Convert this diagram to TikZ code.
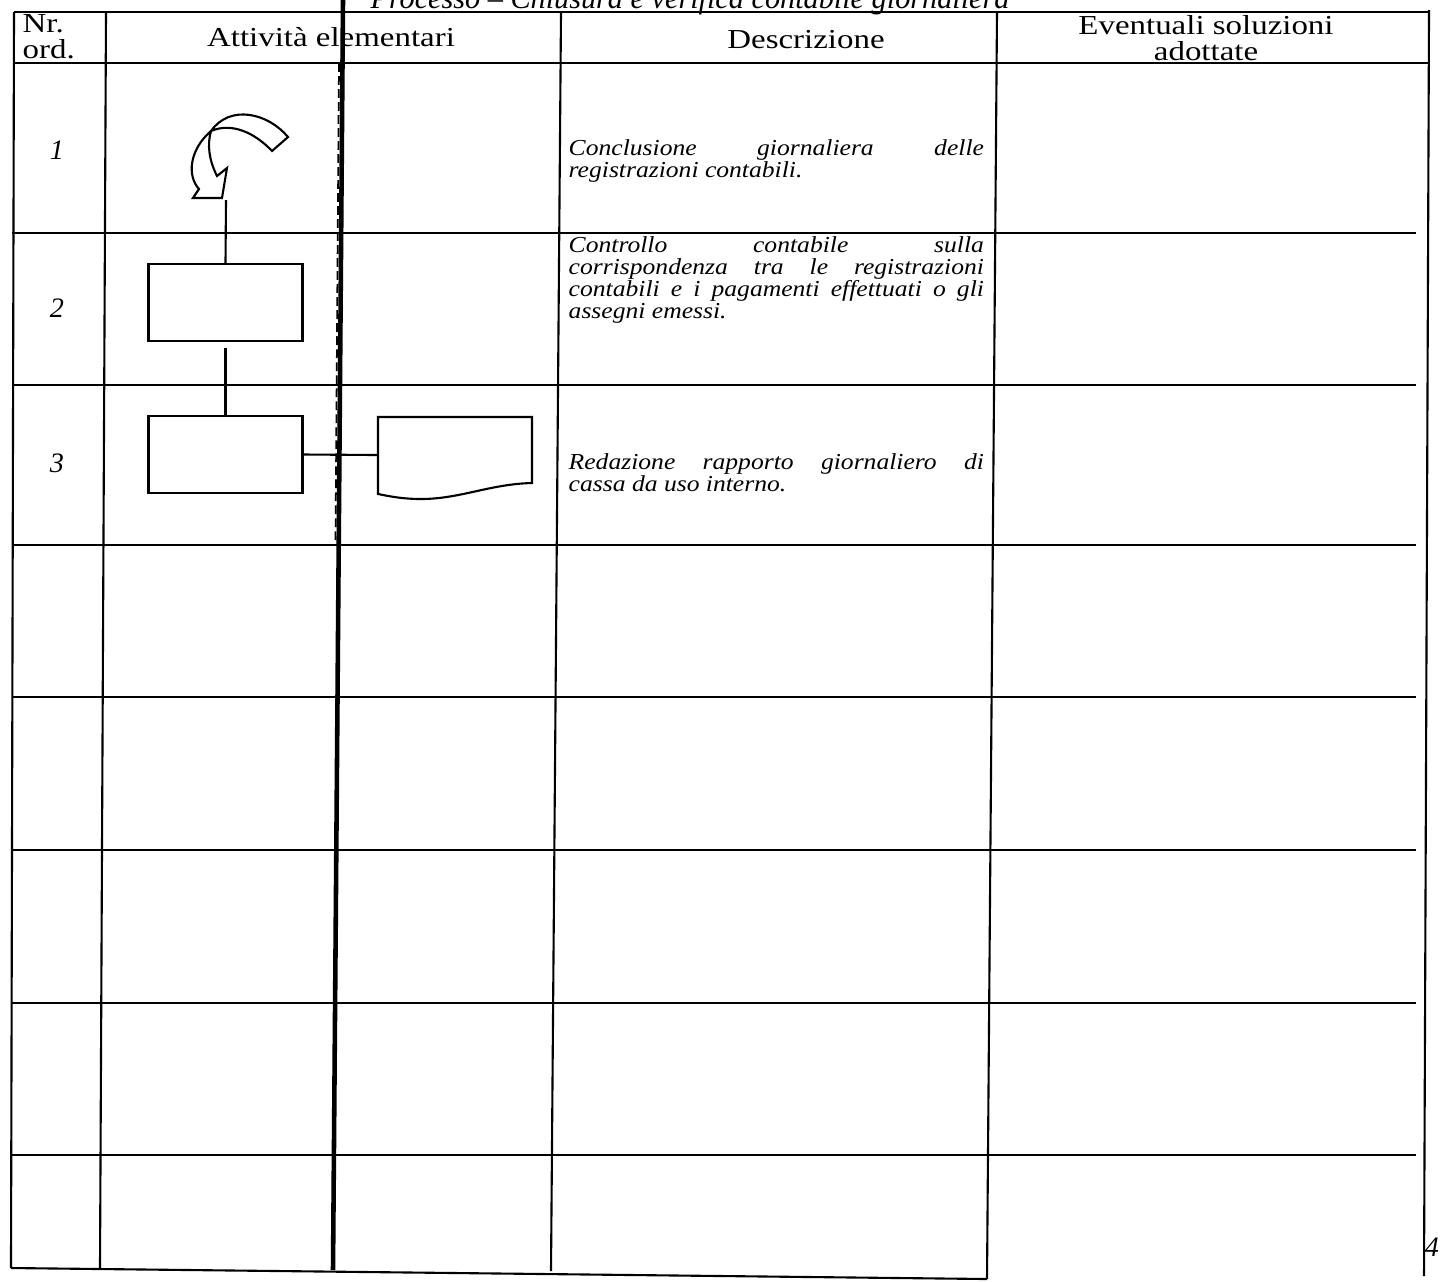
\documentclass[tikz,border=0pt]{standalone}
\usepackage{fontspec}
\setmainfont{Liberation Serif}
\newfontfamily\descfont[FakeStretch=1.12]{Liberation Serif}
\newfontfamily\headfont[FakeStretch=1.2]{Liberation Serif}
\begin{document}
\begin{tikzpicture}[x=0.01cm,y=-0.01cm,
  grid/.style={line width=0.6pt},
  heavy/.style={line width=1.3pt},
  flow/.style={line width=0.6pt},
  fbox/.style={draw,line width=0.6pt,minimum width=1.54cm,minimum height=0.77cm,inner sep=0pt},
  head/.style={font=\headfont\fontsize{7.8}{7.3}\selectfont,inner sep=0pt},
  num/.style={font=\fontsize{8}{9}\itshape\selectfont,inner sep=0pt},
  desc/.style={anchor=north west,inner sep=0pt,text width=4.15cm,align=justify,
    font=\descfont\fontsize{6.5}{6.25}\itshape\selectfont}]
\useasboundingbox (0,0) rectangle (1440,1281);
% title (cut off by the page edge, as in the scan)
\node[anchor=base,inner sep=0pt,font=\fontsize{8.6}{10}\itshape\selectfont] (title) at (690,8)
  {Processo – Chiusura e verifica contabile giornaliera};
% vertical rules
\draw[grid] (14,12) -- (11,1268);
\draw[grid] (106,12) -- (100,1268);
\draw[heavy] (343,0) -- (333,1270);
\draw[line width=0.5pt,dash pattern=on 2.5pt off 1.2pt] (339,63) -- (335.5,545);
\draw[grid] (561,12) -- (551,1271);
\draw[grid] (997,12) -- (987,1279);
\draw[grid] (1429,10) -- (1424,1276);
% horizontal rules
\draw[grid] (14,12) -- (1429,12);
\draw[grid] (14,63) -- (1429,63);
\foreach \yy in {233,385,545,697,850,1003,1155}
  \draw[grid] (12,\yy) -- (1416,\yy);
\draw[grid] (11,1268) -- (987,1279);
% header
\node[head,align=left,anchor=west] (hnr) at (22,37) {Nr.\\ord.};
\node[head] (hatt) at (331,37) {Attività elementari};
\node[head] (hdesc) at (806,40) {Descrizione};
\node[head,align=center] (hev) at (1206,38) {Eventuali soluzioni\\adottate};
% row numbers
\node[num] (n1) at (57,150) {1};
\node[num] (n2) at (57,308) {2};
\node[num] (n3) at (57,463) {3};
% descriptions
\node[desc] (d1) at (568,139) {Conclusione\hfill giornaliera\hfill delle\\registrazioni contabili.};
\node[desc] (d2) at (568,236) {Controllo\hfill contabile\hfill sulla\\corrispondenza\hfill tra\hfill le\hfill registrazioni\\contabili\hfill e\hfill i\hfill pagamenti\hfill effettuati\hfill o\hfill gli\\assegni emessi.};
\node[desc] (d3) at (568,453) {Redazione\hfill rapporto\hfill giornaliero\hfill di\\cassa da uso interno.};
% curved arrow (start symbol)
\draw[flow] (288,137) .. controls (268,113) and (230,104) .. (211,131)
  .. controls (189,150) and (187,176) .. (199,189)
  -- (193,198) -- (222,198) -- (227,168) -- (217,176)
  .. controls (209,160) and (207,145) .. (211,131)
  .. controls (232,122) and (255,133) .. (272,151) -- cycle;
\coordinate (arrowend) at (226,200);
% process boxes
\node[fbox] (b2) at (225.5,302.5) {};
\node[fbox] (b3) at (225.5,454.5) {};
% document shape
\draw[flow] (378,417) -- (532,417) -- (532,483)
  .. controls (490,484) and (460,499) .. (421,499)
  .. controls (402,499) and (388,496) .. (378,494) -- cycle;
\coordinate (docin) at (378,455);
% connectors
\draw[flow] (arrowend) -- (b2.north);
\draw[flow,shorten <=0.06cm] (b2.south) -- (b3.north);
\draw[flow] (b3.east) -- (docin);
% page mark
\node[inner sep=0pt,font=\fontsize{8}{9}\itshape\selectfont] (pg) at (1432,1247) {4};
\end{tikzpicture}
\end{document}
